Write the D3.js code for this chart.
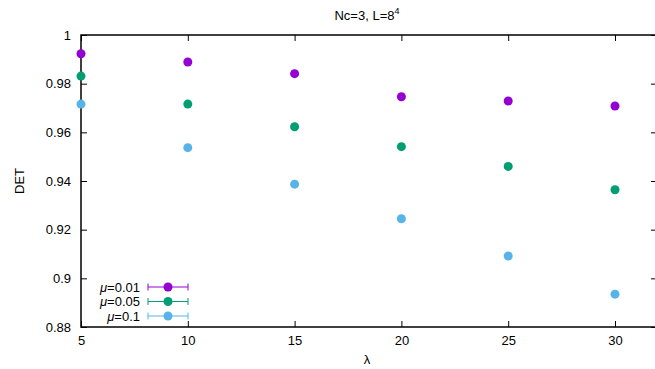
<!DOCTYPE html>
<html>
<head>
<meta charset="utf-8">
<script src="https://cdn.jsdelivr.net/npm/d3@7"></script>
<style>
  body { margin: 0; background: #fff; }
  text { font-family: "Liberation Sans", Arial, sans-serif; }
</style>
</head>
<body>
<svg width="655" height="369"></svg>
<script>
var svg = d3.select("svg"),
    width = +svg.attr("width"),
    height = +svg.attr("height");

// data
var lambda = [5, 10, 15, 20, 25, 30];
var mu001 = [0.9923, 0.9889, 0.9841, 0.9746, 0.9729, 0.9708];
var mu005 = [0.9831, 0.9716, 0.9623, 0.9541, 0.9460, 0.9364];
var mu01  = [0.9716, 0.9537, 0.9387, 0.9245, 0.9092, 0.8935];
var seriesNames = ["\u03bc=0.01", "\u03bc=0.05", "\u03bc=0.1"];
var seriesColors = ["#9400d3", "#009e73", "#56b4e9"];
var xTicks = [5, 10, 15, 20, 25, 30];
var yTicks = [0.88, 0.9, 0.92, 0.94, 0.96, 0.98, 1];

// plot box (pixels) - right border sits just off the canvas
var pL = 81, pR = 657, pT = 35, pB = 327;

var x = d3.scaleLinear().domain([5, 5 + (pR - pL) / 21.36]).range([pL, pR]);
var y = d3.scaleLinear().domain([0.88, 1]).range([pB, pT]);

var series = [mu001, mu005, mu01];

// axes (gnuplot style: inward ticks, mirrored)
svg.append("g")
    .attr("transform", "translate(0," + pB + ")")
    .call(d3.axisBottom(x).tickValues(xTicks).tickSize(-6).tickPadding(9))
    .call(function(g){ g.select(".domain").remove(); });
svg.append("g")
    .attr("transform", "translate(0," + pT + ")")
    .call(d3.axisTop(x).tickValues(xTicks).tickSize(-6).tickFormat(""))
    .call(function(g){ g.select(".domain").remove(); });
svg.append("g")
    .attr("transform", "translate(" + pL + ",0)")
    .call(d3.axisLeft(y).tickValues(yTicks).tickSize(-6).tickPadding(10)
        .tickFormat(function(d){ return String(+d.toFixed(2)); }))
    .call(function(g){ g.select(".domain").remove(); });
svg.append("g")
    .attr("transform", "translate(" + pR + ",0)")
    .call(d3.axisRight(y).tickValues(yTicks).tickSize(-6).tickFormat(""))
    .call(function(g){ g.select(".domain").remove(); });

svg.selectAll(".tick line").attr("stroke", "#000").attr("stroke-width", 1);
svg.selectAll(".tick text").attr("font-size", 13).attr("fill", "#000")
    .style("font-family", "'Liberation Sans', Arial, sans-serif");

svg.append("rect")
    .attr("x", pL).attr("y", pT)
    .attr("width", pR - pL).attr("height", pB - pT)
    .attr("fill", "none").attr("stroke", "#000").attr("stroke-width", 1.5);

// points
series.forEach(function(vals, i){
  svg.append("g")
    .selectAll("circle")
    .data(vals)
    .enter()
    .append("circle")
      .attr("cx", function(d, j){ return x(lambda[j]); })
      .attr("cy", function(d){ return y(d); })
      .attr("r", 4.5)
      .attr("fill", seriesColors[i]);
});

// legend
var legend = svg.append("g");
seriesNames.forEach(function(name, i){
  var ly = 287 + i * 14.5;
  var t = legend.append("text")
      .attr("x", 140).attr("y", ly + 4.5)
      .attr("text-anchor", "end")
      .attr("font-size", 13);
  t.append("tspan").attr("font-style", "italic").text("\u03bc");
  t.append("tspan").text(name.slice(1));
  legend.append("line")
      .attr("x1", 148).attr("x2", 188).attr("y1", ly).attr("y2", ly)
      .attr("stroke", seriesColors[i]).attr("stroke-width", 1);
  [148, 188].forEach(function(cx){
    legend.append("line")
        .attr("x1", cx).attr("x2", cx).attr("y1", ly - 3.5).attr("y2", ly + 3.5)
        .attr("stroke", seriesColors[i]).attr("stroke-width", 1);
  });
  legend.append("circle")
      .attr("cx", 168).attr("cy", ly).attr("r", 4.5)
      .attr("fill", seriesColors[i]);
});

// titles
var title = svg.append("text")
    .attr("x", 367).attr("y", 20)
    .attr("text-anchor", "middle").attr("font-size", 13);
title.append("tspan").text("Nc=3, L=8");
title.append("tspan").attr("font-size", 9).attr("dy", -6).text("4");

svg.append("text")
    .attr("transform", "translate(24," + ((pT + pB) / 2) + ") rotate(-90)")
    .attr("text-anchor", "middle").attr("font-size", 13)
    .text("DET");

svg.append("text")
    .attr("x", 367).attr("y", 364)
    .attr("text-anchor", "middle").attr("font-size", 13)
    .text("\u03bb");
</script>
</body>
</html>
